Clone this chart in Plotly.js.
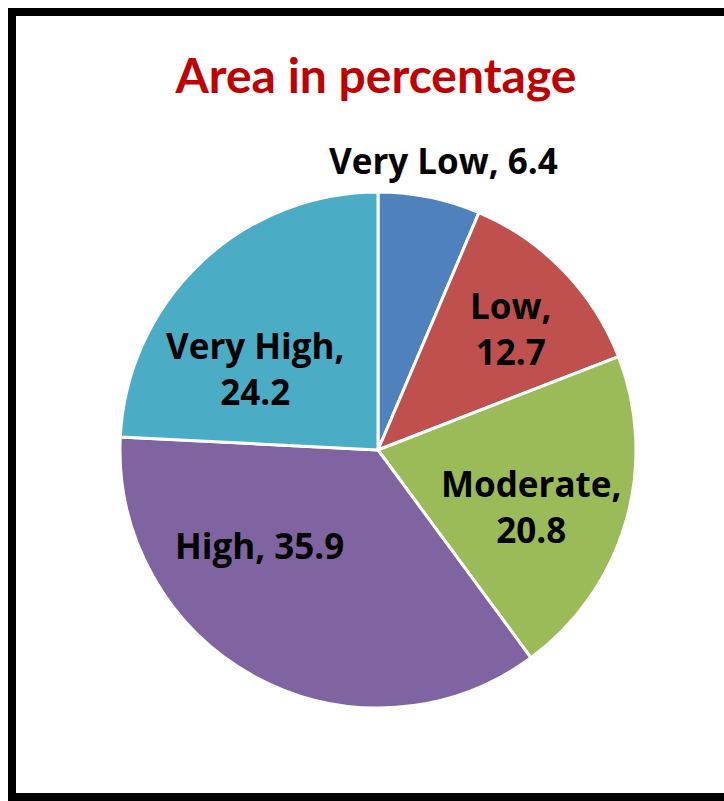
<!DOCTYPE html>
<html>
<head>
<meta charset="utf-8">
<script src="https://cdn.plot.ly/plotly-3.0.1.min.js"></script>
<style>html,body{margin:0;padding:0;background:#fff;} #chart{width:724px;height:801px;}</style>
</head>
<body>
<div id="chart"></div>
<script>
var categories = ["Very Low", "Low", "Moderate", "High", "Very High"];
var values = [6.4, 12.7, 20.8, 35.9, 24.2];
var sliceColors = ["#4f81bd", "#c0504d", "#9bbb59", "#8064a2", "#4bacc6"];
var labelTexts = ["Very Low, 6.4", "Low,<br>12.7", "Moderate,<br>20.8", "High, 35.9", "Very High,<br>24.2"];

var labelFont = {family: "'Open Sans', Lato, sans-serif", size: 35, color: "#000000", weight: "bold"};

var trace = {
  type: "pie",
  labels: categories,
  values: values,
  textinfo: "none",
  sort: false,
  direction: "clockwise",
  rotation: 0,
  marker: {colors: sliceColors, line: {color: "#ffffff", width: 3}},
  domain: {x: [120/724, 636/724], y: [1 - 708/801, 1 - 192/801]},
  showlegend: false,
  automargin: false,
  hoverinfo: "label+value"
};

// label centres in pixels (layout only)
var labelPx = [[443, 160], [510, 328], [531, 506], [259, 545], [255, 368]];

var annotations = labelTexts.map(function (t, i) {
  return {
    text: t,
    xref: "paper", yref: "paper",
    x: labelPx[i][0] / 724, y: 1 - labelPx[i][1] / 801,
    xanchor: "center", yanchor: "middle",
    showarrow: false,
    font: labelFont
  };
});

var layout = {
  width: 724,
  height: 801,
  margin: {l: 0, r: 0, t: 0, b: 0},
  paper_bgcolor: "#ffffff",
  showlegend: false,
  title: {
    text: "<b>Area in percentage</b>",
    font: {family: "Lato, 'Open Sans', sans-serif", size: 48, color: "#c00000"},
    x: 376/724, xanchor: "center",
    y: 1 - 76/801, yanchor: "middle"
  },
  annotations: annotations,
  shapes: [{
    type: "rect", xref: "paper", yref: "paper",
    x0: 12/724, x1: 1.05, y0: 1 - 797/801, y1: 1 - 12/801,
    line: {color: "#000000", width: 8}, fillcolor: "rgba(0,0,0,0)"
  }]
};

Plotly.newPlot("chart", [trace], layout, {staticPlot: true});
</script>
</body>
</html>
